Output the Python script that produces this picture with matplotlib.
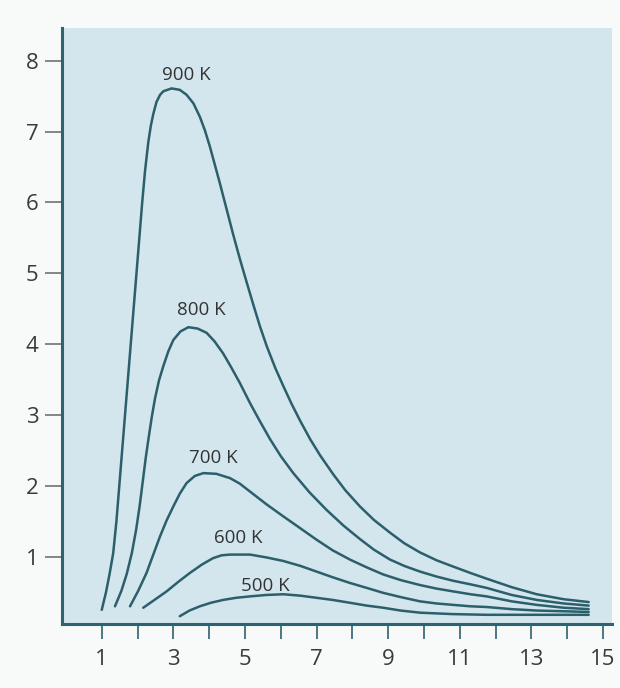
import matplotlib.pyplot as plt

# 字体
plt.rcParams['font.family'] = ['Open Sans', 'DejaVu Sans']

# 读出的曲线数据 (横坐标, 纵坐标)
x_900 = [1.0, 1.12, 1.22, 1.32, 1.41, 1.49, 1.57, 1.65, 1.73, 1.81, 1.89, 1.97, 2.05, 2.13,
         2.21, 2.30, 2.37, 2.44, 2.53, 2.63, 2.72, 2.95, 3.18, 3.37, 3.56, 3.74, 3.88, 4.02,
         4.30, 4.48, 4.67, 4.86, 5.05, 5.25, 5.42, 5.61, 5.85, 6.07, 6.30, 6.54, 6.82, 7.10,
         7.47, 7.80, 8.21, 8.60, 9.05, 9.45, 9.89, 10.35, 10.82, 11.30, 11.75, 12.45, 13.15,
         13.90, 14.6]
y_900 = [0.25, 0.50, 0.76, 1.05, 1.50, 2.0, 2.5, 3.0, 3.5, 4.0, 4.5, 5.0, 5.5, 6.0,
         6.45, 6.85, 7.08, 7.25, 7.42, 7.52, 7.57, 7.61, 7.59, 7.52, 7.40, 7.21, 7.02, 6.79,
         6.27, 5.92, 5.55, 5.20, 4.87, 4.53, 4.25, 3.97, 3.66, 3.41, 3.16, 2.92, 2.66, 2.43,
         2.16, 1.94, 1.71, 1.52, 1.34, 1.19, 1.06, 0.95, 0.86, 0.77, 0.69, 0.57, 0.47,
         0.40, 0.36]

x_800 = [1.37, 1.55, 1.70, 1.84, 1.96, 2.06, 2.15, 2.23, 2.31, 2.40, 2.49, 2.60, 2.72, 2.86,
         3.0, 3.20, 3.42, 3.68, 3.93, 4.15, 4.39, 4.62, 4.86, 5.14, 5.42, 5.70, 6.0, 6.35,
         6.80, 7.28, 7.75, 8.21, 8.60, 9.05, 9.45, 9.89, 10.35, 10.82, 11.30, 11.75, 12.45,
         13.15, 13.90, 14.6]
y_800 = [0.30, 0.52, 0.76, 1.05, 1.38, 1.72, 2.08, 2.40, 2.68, 2.98, 3.24, 3.49, 3.69, 3.90,
         4.06, 4.18, 4.24, 4.22, 4.16, 4.04, 3.87, 3.67, 3.45, 3.17, 2.91, 2.66, 2.42, 2.18,
         1.91, 1.66, 1.44, 1.25, 1.10, 0.96, 0.87, 0.79, 0.72, 0.66, 0.61, 0.56, 0.46,
         0.39, 0.34, 0.31]

x_700 = [1.79, 2.02, 2.25, 2.44, 2.63, 2.81, 3.0, 3.18, 3.37, 3.60, 3.84, 4.20, 4.58, 4.86,
         5.14, 5.60, 6.07, 6.55, 7.0, 7.45, 7.93, 8.40, 8.86, 9.35, 9.89, 10.35, 10.82,
         11.30, 11.75, 12.45, 13.15, 13.90, 14.6]
y_700 = [0.30, 0.52, 0.77, 1.03, 1.29, 1.51, 1.71, 1.89, 2.04, 2.14, 2.18, 2.17, 2.11, 2.03,
         1.92, 1.74, 1.57, 1.40, 1.24, 1.09, 0.96, 0.85, 0.75, 0.67, 0.60, 0.55, 0.51,
         0.47, 0.44, 0.37, 0.32, 0.28, 0.26]

x_600 = [2.16, 2.50, 2.81, 3.15, 3.46, 3.80, 4.11, 4.35, 4.58, 5.14, 5.60, 6.07, 6.55, 7.0,
         7.45, 7.93, 8.40, 8.86, 9.35, 9.89, 10.35, 10.82, 11.30, 11.75, 12.45, 13.15,
         13.90, 14.6]
y_600 = [0.28, 0.40, 0.51, 0.65, 0.77, 0.89, 0.98, 1.02, 1.03, 1.03, 0.99, 0.94, 0.87, 0.79,
         0.71, 0.63, 0.56, 0.49, 0.43, 0.37, 0.34, 0.32, 0.30, 0.29, 0.26, 0.24,
         0.23, 0.22]

x_500 = [3.18, 3.45, 3.74, 4.05, 4.39, 4.75, 5.14, 5.60, 6.07, 6.55, 7.0, 7.45, 7.93, 8.40,
         8.86, 9.35, 9.89, 10.80, 11.75, 13.15, 14.6]
y_500 = [0.16, 0.24, 0.30, 0.35, 0.39, 0.42, 0.44, 0.46, 0.47, 0.45, 0.42, 0.39, 0.35, 0.31,
         0.28, 0.24, 0.21, 0.19, 0.18, 0.18, 0.18]

labels = ['900 K', '800 K', '700 K', '600 K', '500 K']
label_x = [3.37, 3.77, 4.11, 4.81, 5.56]
label_y = [7.80, 4.48, 2.39, 1.27, 0.58]

x_ticks = list(range(1, 16))
x_tick_labels = ['1', '', '3', '', '5', '', '7', '', '9', '', '11', '', '13', '', '15']
y_ticks = [1, 2, 3, 4, 5, 6, 7, 8]

line_color = '#2b5f6b'
fig = plt.figure(figsize=(6.2, 6.88), dpi=100, facecolor='#f8f9f9')
ax = fig.add_axes([0.1, 0.093, 0.887, 0.866])
ax.set_facecolor('#d3e5ed')

# 绘制曲线
for xs, ys in [(x_900, y_900), (x_800, y_800), (x_700, y_700), (x_600, y_600), (x_500, y_500)]:
    ax.plot(xs, ys, color=line_color, linewidth=1.8, solid_joinstyle='round',
            solid_capstyle='round')

# 曲线标注
for t, lx, ly in zip(labels, label_x, label_y):
    ax.text(lx, ly, t, fontsize=13.5, color='#333333', ha='center', va='center')

ax.set_xlim(-0.11, 15.25)
ax.set_ylim(0.05, 8.46)

# 坐标轴样式
for s in ['top', 'right']:
    ax.spines[s].set_visible(False)
for s in ['left', 'bottom']:
    ax.spines[s].set_linewidth(2.2)
    ax.spines[s].set_color('#2d6470')

ax.set_xticks(x_ticks)
ax.set_xticklabels(x_tick_labels)
ax.set_yticks(y_ticks)
ax.set_yticklabels([str(v) for v in y_ticks])
ax.tick_params(axis='x', direction='out', length=11, width=1.3, color='#3d6d78',
               labelsize=16, labelcolor='#3a3a3a', pad=7)
ax.tick_params(axis='y', direction='out', length=12, width=1.1, color='#666666',
               labelsize=16, labelcolor='#3a3a3a', pad=5)

plt.savefig('out.png', dpi=100, facecolor=fig.get_facecolor())
